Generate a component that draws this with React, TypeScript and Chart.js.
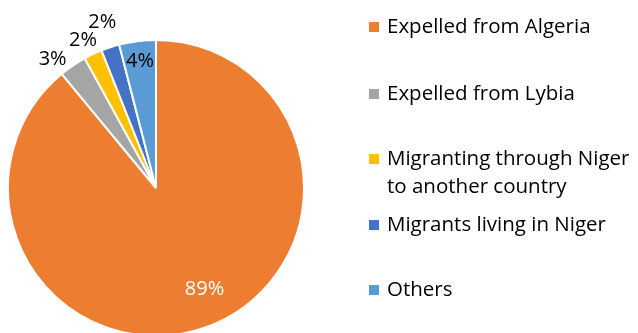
import React, { useEffect, useRef } from "react";
import { Chart, registerables } from "chart.js";

Chart.register(...registerables);

const categories = [
  "Expelled from Algeria",
  "Expelled from Lybia",
  "Migranting through Niger to another country",
  "Migrants living in Niger",
  "Others",
];
const legendLines = [
  ["Expelled from Algeria"],
  ["Expelled from Lybia"],
  ["Migranting through Niger", "to another country"],
  ["Migrants living in Niger"],
  ["Others"],
];
const values = [89, 3, 2, 2, 4];
const valueLabels = ["89%", "3%", "2%", "2%", "4%"];
const colors = ["#ED7D31", "#A5A5A5", "#FFC000", "#4472C4", "#5B9BD5"];

const W = 638;
const H = 345;

const labelPlugin = {
  id: "sliceLabels",
  afterDatasetsDraw(chart: any) {
    const ctx = chart.ctx;
    const meta = chart.getDatasetMeta(0);
    const radial = [0.76, 1.115, 1.11, 1.175, 0.865];
    const angOff = [-0.1, -0.08, -0.02, 0, 0];
    ctx.save();
    ctx.font = '20px "Open Sans"';
    ctx.textAlign = "center";
    ctx.textBaseline = "middle";
    meta.data.forEach((arc: any, i: number) => {
      const { x, y, startAngle, endAngle, outerRadius } = arc.getProps(
        ["x", "y", "startAngle", "endAngle", "outerRadius"],
        true
      );
      const mid = (startAngle + endAngle) / 2 + angOff[i];
      const r = outerRadius * radial[i];
      ctx.fillStyle = i === 0 ? "#FFFFFF" : "#000000";
      ctx.fillText(valueLabels[i], x + Math.cos(mid) * r, y + Math.sin(mid) * r);
    });
    ctx.restore();
  },
};

const legendPlugin = {
  id: "customLegend",
  afterDraw(chart: any) {
    const ctx = chart.ctx;
    const baselines = [33, 100, 165, 231, 296];
    ctx.save();
    ctx.font = '20.5px "Open Sans"';
    ctx.textAlign = "left";
    ctx.textBaseline = "alphabetic";
    legendLines.forEach((lines, i) => {
      const b = baselines[i];
      ctx.fillStyle = colors[i];
      ctx.fillRect(369, b - 11, 10, 10);
      ctx.fillStyle = "#000000";
      lines.forEach((t, j) => ctx.fillText(t, 387, b + j * 28));
    });
    ctx.restore();
  },
};

export default function App() {
  const ref = useRef<HTMLCanvasElement | null>(null);
  useEffect(() => {
    document.body.style.margin = "0";
    document.documentElement.style.overflow = "hidden";
    const canvas = ref.current!;
    const chart = new Chart(canvas, {
      type: "pie",
      data: {
        labels: categories,
        datasets: [
          {
            data: values,
            backgroundColor: colors,
            borderColor: "#FFFFFF",
            borderWidth: 2,
          },
        ],
      },
      options: {
        responsive: false,
        animation: false,
        layout: { padding: { left: 7, top: 39, right: W - 305, bottom: H - 337 } },
        plugins: {
          legend: { display: false },
          tooltip: { enabled: false },
        },
      },
      plugins: [labelPlugin, legendPlugin],
    });
    return () => chart.destroy();
  }, []);
  return (
    <div style={{ width: W, height: 333, overflow: "hidden", position: "relative", background: "#fff" }}>
      <canvas ref={ref} width={W} height={H} style={{ display: "block", width: W, height: H }} />
    </div>
  );
}
